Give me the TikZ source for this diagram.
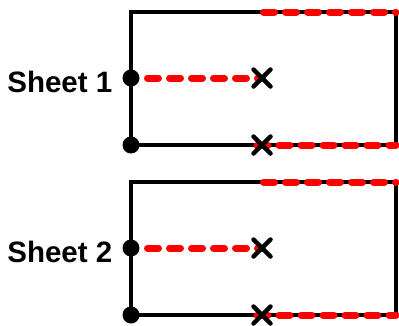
\documentclass[tikz,border=0pt]{standalone}
\usepackage{fontspec}
\setmainfont{Liberation Sans}
\begin{document}
\begin{tikzpicture}[x=1pt,y=-1pt,
  wire/.style={line width=4.5pt,black},
  reddash/.style={line width=7pt,red,line cap=round,dash pattern=on 11pt off 11pt},
  dotnode/.style={circle,fill=black,inner sep=0pt,minimum size=17pt},
  cross/.style={line width=4.5pt,black,line cap=round},
  lbl/.style={font=\bfseries\fontsize{29.5}{32}\selectfont,anchor=base east,inner sep=0pt}]
\useasboundingbox (0,0) rectangle (399,325);
\foreach \i/\oy in {1/0,2/170}{
  \coordinate (tl\i) at (131,12+\oy);
  \coordinate (tm\i) at (263.5,12+\oy);
  \coordinate (tr\i) at (396,12+\oy);
  \coordinate (br\i) at (396,145+\oy);
  \coordinate (mid\i) at (131,78+\oy);
  \coordinate (ms\i) at (147.5,78+\oy);
  \coordinate (mx\i) at (262,78+\oy);
  \coordinate (bs\i) at (257,145+\oy);
  \coordinate (bx\i) at (262,145+\oy);
  \coordinate (bl\i) at (131,145+\oy);
  \draw[wire] (bl\i) -- (tl\i) -- (tr\i) -- (br\i) -- (bl\i);
  \draw[reddash] (tm\i) -- (tr\i);
  \draw[reddash] (bs\i) -- (br\i);
  \draw[reddash] (ms\i) -- (mx\i);
  \node[dotnode] (d\i) at (mid\i) {};
  \node[dotnode] (e\i) at (bl\i) {};
  \draw[cross] (mx\i) ++(-8.5,-8.5) -- ++(17,17) ++(-17,0) -- ++(17,-17);
  \draw[cross] (bx\i) ++(-8.5,-8.5) -- ++(17,17) ++(-17,0) -- ++(17,-17);
  \node[lbl] (s\i) at (112.5,92+\oy) {Sheet \i};
}
\end{tikzpicture}
\end{document}
